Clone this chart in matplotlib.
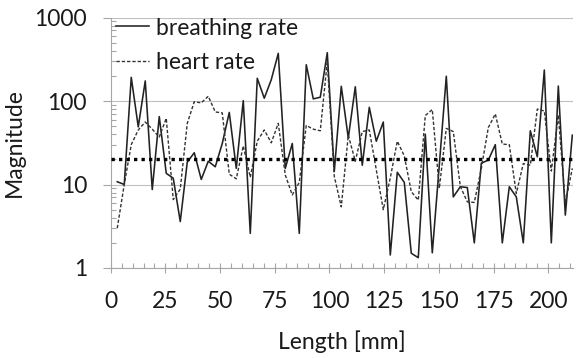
import numpy as np
import matplotlib
matplotlib.use("Agg")
import matplotlib.pyplot as plt
from matplotlib.ticker import FixedLocator, LogLocator, NullFormatter

# sample positions along the sensor, 66 readings 3.2 mm apart
length_mm = np.round(np.linspace(3, 211, 66), 1)

breathing_rate = [
    10.8, 10, 192, 49, 174, 8.7, 65, 13.6, 11.9, 3.6,
    18.5, 24, 11.5, 19, 16.3, 31, 73, 15.6, 101, 2.6,
    187, 108, 180, 372, 15.6, 31, 2.6, 272, 106, 111,
    379, 14.3, 150, 36, 148, 17, 84, 33, 56, 1.43,
    14, 10.6, 1.5, 1.33, 40, 1.52, 17, 198, 7.1, 9.4,
    9.2, 2.0, 18, 19.6, 30, 2.0, 9.4, 7.1, 2.0, 44,
    21.5, 235, 2.0, 151, 4.3, 39,
]

heart_rate = [
    3.0, 10, 30, 45, 56, 46, 37, 62, 6.6, 8.8,
    54, 98, 95, 114, 74, 72, 13.3, 11.7, 29, 12.2,
    33, 45, 31.6, 54, 13, 7.5, 10.6, 51, 46, 44,
    296, 12.5, 5.4, 39, 19, 43, 45, 15, 5.0, 12,
    33, 22, 8.2, 6.5, 67, 79, 9, 47, 43, 9.5,
    6.2, 6.1, 15.5, 48, 70, 30.5, 30, 7.8, 17.8, 17,
    80, 76, 14.5, 68, 6.0, 15.6,
]

threshold = 20

x_ticks = [0, 25, 50, 75, 100, 125, 150, 175, 200]
y_ticks = [1, 10, 100, 1000]

plt.rcParams['font.family'] = ['Lato', 'DejaVu Sans']
text_color = '#1a1a1a'
fs = 16.5

fig = plt.figure(figsize=(5.78, 3.58), dpi=100)
ax = fig.add_axes([0.1915, 0.2514, 0.7998, 0.6997])

ax.plot(length_mm, breathing_rate, color='#222222', lw=1.15,
        label='breathing rate', zorder=3)
ax.plot(length_mm, heart_rate, color='#333333', lw=1.0,
        linestyle=(0, (2.4, 1.4)), label='heart rate', zorder=3)
ax.axhline(threshold, color='black', lw=2.4, linestyle=(0, (1, 1.25)),
           dash_capstyle='butt', zorder=4)

ax.set_yscale('log')
ax.set_xlim(0, 211.3)
ax.set_ylim(1, 1000)

ax.xaxis.set_major_locator(FixedLocator(x_ticks))
ax.xaxis.set_minor_locator(FixedLocator(np.arange(0, 211, 5)))
ax.yaxis.set_major_locator(FixedLocator(y_ticks))
ax.yaxis.set_minor_locator(LogLocator(base=10, subs=np.arange(2, 10)))
ax.yaxis.set_minor_formatter(NullFormatter())
ax.set_xticklabels([str(t) for t in x_ticks])
ax.set_yticklabels([str(t) for t in y_ticks])

ax.grid(axis='y', which='major', color='#bfbfbf', lw=0.8)
ax.set_axisbelow(True)
for side in ['top', 'right']:
    ax.spines[side].set_visible(False)
for side in ['left', 'bottom']:
    ax.spines[side].set_color('#a6a6a6')
    ax.spines[side].set_linewidth(0.8)

ax.tick_params(axis='x', which='major', direction='inout', length=7,
               width=0.8, color='#a6a6a6', pad=13, labelsize=fs,
               labelcolor=text_color)
ax.tick_params(axis='x', which='minor', direction='in', length=3.6,
               width=0.8, color='#a6a6a6')
ax.tick_params(axis='y', which='major', direction='out', length=6,
               width=0.8, color='#a6a6a6', pad=11, labelsize=fs,
               labelcolor=text_color)
ax.tick_params(axis='y', which='minor', direction='in', length=3.6,
               width=0.8, color='#a6a6a6')

ax.set_xlabel('Length [mm]', fontsize=fs, color=text_color)
ax.xaxis.set_label_coords(0.5, -0.25)
ax.set_ylabel('Magnitude', fontsize=fs, color=text_color)
ax.yaxis.set_label_coords(-0.185, 0.5)

ax.legend(loc='upper left', bbox_to_anchor=(0.012, 1.0), frameon=False,
          fontsize=fs, handlelength=1.45, handletextpad=0.3,
          labelspacing=0.6, borderpad=0, borderaxespad=0,
          labelcolor=text_color)

fig.savefig('out.png', dpi=100)
